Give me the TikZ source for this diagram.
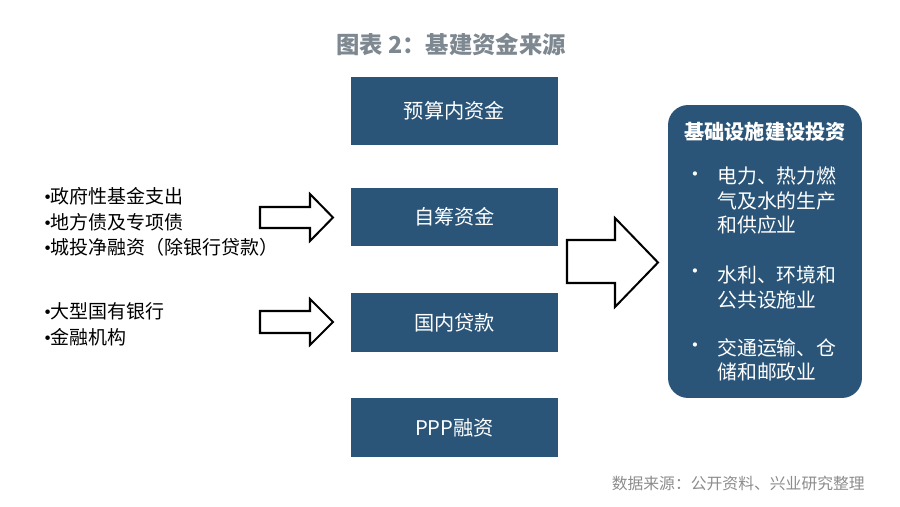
\documentclass[tikz,border=0pt]{standalone}
\usepackage{fontspec}
\setmainfont{Noto Sans CJK SC}
\newfontfamily\bulletfont{Liberation Serif}
\newcommand{\dotmark}{{\bulletfont •}}
\usetikzlibrary{positioning}
\definecolor{boxblue}{HTML}{2A5578}
\definecolor{titlegray}{HTML}{7E8891}
\definecolor{notegray}{HTML}{8C8C8C}
\tikzset{
  fundbox/.style={fill=boxblue, text=white, minimum width=4.14cm, minimum height=1.18cm,
    font=\fontsize{11.5}{14}\selectfont},
  listtext/.style={anchor=west, align=left, inner sep=0pt, font=\fontsize{10.8}{14.5}\selectfont},
  itemtext/.style={anchor=west, align=left, inner sep=0pt, text=white, font=\fontsize{11.3}{13.9}\selectfont},
  blockarrow/.style={draw=black, line width=1.15pt, fill=white, line join=miter}
}
\begin{document}
\begin{tikzpicture}[x=0.02cm, y=-0.02cm]
  \useasboundingbox (0,0) rectangle (900,507);
  \node[text=titlegray, font=\fontsize{13.3}{16}\selectfont\bfseries] (title) at (451,45) {图表 2：基建资金来源};
  \node[fundbox, minimum height=1.36cm] (budget) at (454.5,111) {预算内资金};
  \node[fundbox] (selfraised) at (454.5,217) {自筹资金};
  \node[fundbox] (loan) at (454.5,322.5) {国内贷款};
  \node[fundbox] (ppp) at (454.5,427.5) {PPP融资};
  \node[listtext] (govlist) at (44,222) {\dotmark 政府性基金支出\\\dotmark 地方债及专项债\\\dotmark 城投净融资（除银行贷款）};
  \node[listtext] (banklist) at (44,324.5) {\dotmark 大型国有银行\\\dotmark 金融机构};
  \node[fill=boxblue, rounded corners=0.4cm, minimum width=3.88cm, minimum height=5.86cm] (invest) at (765,251.5) {};
  \node[text=white, font=\fontsize{11.5}{14}\selectfont\bfseries] (investtitle) at (765,132) {基础设施建设投资};
  \node[itemtext] (power) at (717,200.5) {电力、热力燃\\气及水的生产\\和供应业};
  \node[itemtext] (water) at (717,287.5) {水利、环境和\\公共设施业};
  \node[itemtext] (traffic) at (717,360) {交通运输、仓\\储和邮政业};
  \node[itemtext] at (685,177) {•};
  \node[itemtext] at (685,274) {•};
  \node[itemtext] at (685,348) {•};
  \node[text=notegray, anchor=east, font=\fontsize{9}{11}\selectfont] (source) at (871,483) {数据来源：公开资料、兴业研究整理};
  \draw[blockarrow] (260,207) -- (310,207) -- (310,194) -- (333,217.5) -- (310,241) -- (310,228) -- (260,228) -- cycle;
  \draw[blockarrow] (260,311) -- (310,311) -- (310,299) -- (333,322) -- (310,345) -- (310,333) -- (260,333) -- cycle;
  \draw[blockarrow] (567,240) -- (615,240) -- (615,218) -- (658,262.5) -- (615,307) -- (615,283) -- (567,283) -- cycle;
\end{tikzpicture}
\end{document}
